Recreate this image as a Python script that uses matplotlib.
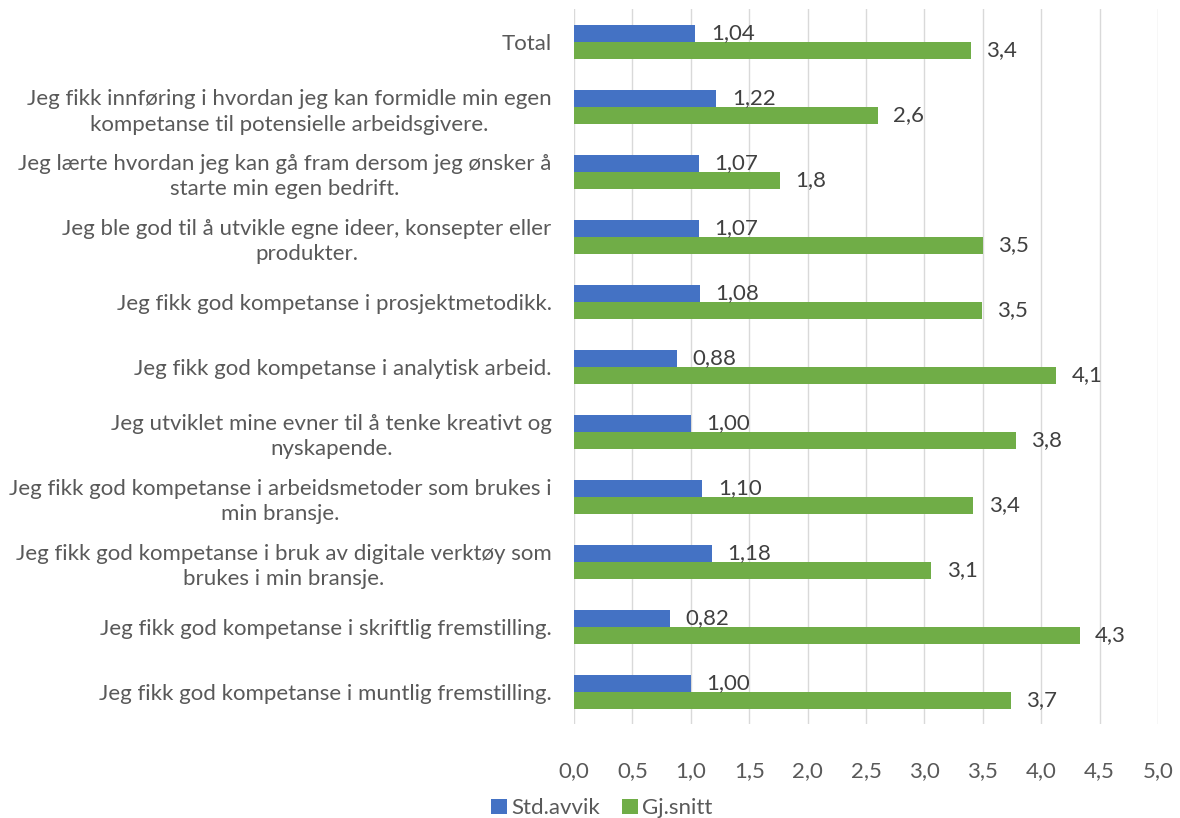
import matplotlib
matplotlib.use("Agg")
import matplotlib.pyplot as plt
import numpy as np

plt.rcParams['font.family'] = ['Lato', 'DejaVu Sans']

categories = [
    "Total",
    "Jeg fikk innføring i hvordan jeg kan formidle min egen\nkompetanse til potensielle arbeidsgivere.",
    "Jeg lærte hvordan jeg kan gå fram dersom jeg ønsker å\nstarte min egen bedrift.",
    "Jeg ble god til å utvikle egne ideer, konsepter eller\nprodukter.",
    "Jeg fikk god kompetanse i prosjektmetodikk.",
    "Jeg fikk god kompetanse i analytisk arbeid.",
    "Jeg utviklet mine evner til å tenke kreativt og\nnyskapende.",
    "Jeg fikk god kompetanse i arbeidsmetoder som brukes i\nmin bransje.",
    "Jeg fikk god kompetanse i bruk av digitale verktøy som\nbrukes i min bransje.",
    "Jeg fikk god kompetanse i skriftlig fremstilling.",
    "Jeg fikk god kompetanse i muntlig fremstilling.",
]
std_avvik = [1.04, 1.22, 1.07, 1.07, 1.08, 0.88, 1.00, 1.10, 1.18, 0.82, 1.00]
gj_snitt = [3.40, 2.60, 1.76, 3.50, 3.49, 4.13, 3.78, 3.42, 3.06, 4.33, 3.74]
x_ticks = [0.0, 0.5, 1.0, 1.5, 2.0, 2.5, 3.0, 3.5, 4.0, 4.5, 5.0]

blue = '#4472C4'
green = '#70AD47'
text_col = '#595959'
fs = 16

fig = plt.figure(figsize=(11.8, 8.18), dpi=100)
ax = fig.add_axes([0.4864, 0.1149, 0.495, 0.8735])

y = np.arange(len(categories))
h = 0.262
b1 = ax.barh(y - h / 2, std_avvik, height=h, color=blue, label='Std.avvik', zorder=3)
b2 = ax.barh(y + h / 2, gj_snitt, height=h, color=green, label='Gj.snitt', zorder=3)

for rect, v in zip(b1, std_avvik):
    ax.annotate(f"{v:.2f}".replace('.', ','), (rect.get_width(), rect.get_y() + rect.get_height() / 2),
                xytext=(11, 0), textcoords='offset points', va='center', ha='left',
                fontsize=fs, color='#404040')
for rect, v in zip(b2, gj_snitt):
    ax.annotate(f"{v:.1f}".replace('.', ','), (rect.get_width(), rect.get_y() + rect.get_height() / 2),
                xytext=(11, 0), textcoords='offset points', va='center', ha='left',
                fontsize=fs, color='#404040')

ax.set_xlim(0, 5)
ax.set_ylim(len(categories) - 0.5, -0.5)
ax.set_xticks(x_ticks)
ax.set_xticklabels([f"{t:.1f}".replace('.', ',') for t in x_ticks])
ax.set_yticks(y)
ax.set_yticklabels(categories, multialignment='center', linespacing=1.35)
ax.tick_params(axis='both', length=0, labelsize=fs, labelcolor=text_col)
ax.tick_params(axis='y', pad=16)
ax.tick_params(axis='x', pad=27)
ax.grid(axis='x', color='#D9D9D9', linewidth=1, zorder=0)
for s in ax.spines.values():
    s.set_visible(False)

fig.legend(handles=[b1, b2], loc='center', bbox_to_anchor=(0.51, 0.012), ncol=2,
           frameon=False, fontsize=fs, handlelength=0.7, handleheight=0.7,
           handletextpad=0.2, columnspacing=1.0, labelcolor=text_col)

fig.savefig('out.png', dpi=100)
